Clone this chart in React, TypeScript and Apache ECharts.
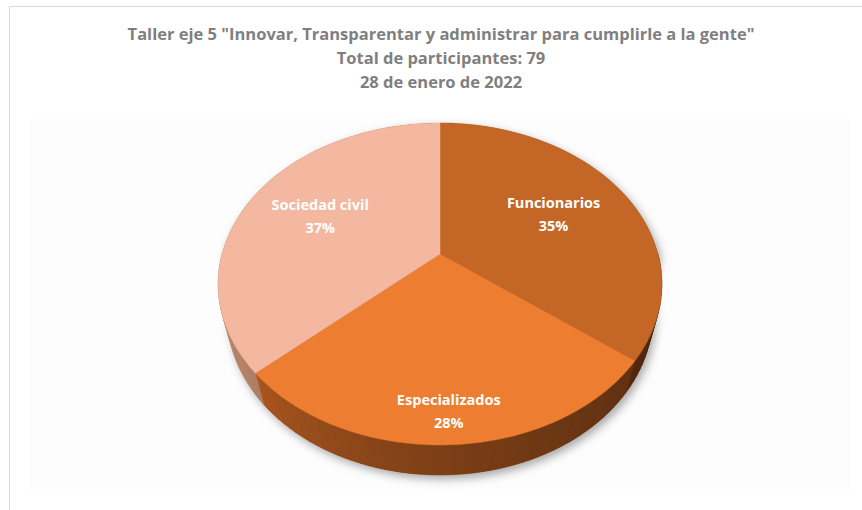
import React, { useEffect, useRef } from 'react';
import * as echarts from 'echarts';

const titleLines = [
  'Taller eje 5 "Innovar, Transparentar y administrar para cumplirle a la gente"',
  'Total de participantes: 79',
  '28 de enero de 2022',
];
const categories = ['Funcionarios', 'Especializados', 'Sociedad civil'];
const participants = [28, 22, 29];

const topColors = ['#C46626', '#ED7D31', '#F4B8A0'];
const labelRadius = [0.61, 0.85, 0.63];

// 3D projection of a tilted disc (perspective)
const CX = 440;
const CY = 254;
const FOCAL = 820;
const DIST = 3.763;
const SIN_A = 0.713;
const COS_A = 0.701;
const THICK = 0.22;

function proj(theta: number, r: number, y: number): number[] {
  const u = r * Math.sin(theta);
  const v = r * Math.cos(theta);
  const up = v * SIN_A + y * COS_A;
  const depth = DIST + v * COS_A - y * SIN_A;
  return [CX + (FOCAL * u) / depth, CY - (FOCAL * up) / depth];
}

function hexToRgb(h: string) {
  const n = parseInt(h.slice(1), 16);
  return [(n >> 16) & 255, (n >> 8) & 255, n & 255];
}

function shadeColor(hex: string, theta: number) {
  const t = Math.max(0, Math.min(1, (theta - Math.PI / 2) / Math.PI));
  const s = Math.min(0.76, 0.39 + 0.55 * t * t);
  const [r, g, b] = hexToRgb(hex);
  const rr = Math.round(r * s);
  const gg = Math.round(g * s * 0.96);
  const bb = Math.round(b * s * 0.88);
  return `rgb(${rr},${gg},${bb})`;
}

export default function App() {
  const ref = useRef<HTMLDivElement>(null);
  useEffect(() => {
    if (!ref.current) return;
    const chart = echarts.init(ref.current, undefined, { renderer: 'svg' });
    const total = participants.reduce((a, b) => a + b, 0);
    const starts: number[] = [];
    let acc = 0;
    participants.forEach((v) => {
      starts.push(acc);
      acc += v;
    });

    const renderItem = (params: any, api: any) => {
      const i = params.dataIndex;
      const value = api.value(0) as number;
      const a0 = (starts[i] / total) * Math.PI * 2;
      const a1 = a0 + (value / total) * Math.PI * 2;
      const children: any[] = [];
      const DEG = Math.PI / 180;

      if (i === 0) {
        const sil: number[][] = [];
        for (let t = 90; t <= 270; t += 2) sil.push(proj(t * DEG, 1, -THICK));
        for (let t = 270; t <= 450; t += 2) sil.push(proj(t * DEG, 1, 0));
        children.push({
          type: 'polygon',
          shape: { points: sil },
          style: {
            fill: '#6a3a16',
            shadowBlur: 10,
            shadowColor: 'rgba(0,0,0,0.35)',
            shadowOffsetX: 3,
            shadowOffsetY: 4,
          },
          z2: 0,
        });
      }

      // outer wall (front half only)
      const lo = Math.max(a0, Math.PI / 2);
      const hi = Math.min(a1, (3 * Math.PI) / 2);
      if (lo < hi) {
        const n = Math.ceil((hi - lo) / (2 * DEG));
        for (let k = 0; k < n; k++) {
          const t0 = lo + ((hi - lo) * k) / n;
          const t1 = lo + ((hi - lo) * (k + 1)) / n;
          const col = shadeColor(topColors[i], (t0 + t1) / 2);
          children.push({
            type: 'polygon',
            shape: {
              points: [proj(t0, 1, 0), proj(t1, 1, 0), proj(t1, 1, -THICK), proj(t0, 1, -THICK)],
            },
            style: { fill: col, stroke: col, lineWidth: 0.6 },
            z2: 5,
          });
        }
      }

      // top face
      const pts: number[][] = [proj(0, 0, 0)];
      const m = Math.max(2, Math.ceil((a1 - a0) / DEG));
      for (let k = 0; k <= m; k++) pts.push(proj(a0 + ((a1 - a0) * k) / m, 1, 0));
      children.push({
        type: 'polygon',
        shape: { points: pts },
        style: { fill: topColors[i], stroke: topColors[i], lineWidth: 0.5 },
        z2: 10,
      });

      // label
      const mid = (a0 + a1) / 2;
      const lp = proj(mid, labelRadius[i], 0);
      const pct = Math.round((value / total) * 100);
      children.push({
        type: 'text',
        x: lp[0],
        y: lp[1],
        style: {
          text: `${categories[i]}\n${pct}%`,
          fill: '#FFFFFF',
          font: 'bold 14.5px "Open Sans", sans-serif',
          align: 'center',
          verticalAlign: 'middle',
          lineHeight: 23,
        },
        z2: 20,
      });

      return { type: 'group', children };
    };

    chart.setOption({
      animation: false,
      backgroundColor: '#FFFFFF',
      graphic: [
        {
          type: 'rect',
          shape: { x: 9.5, y: 6.5, width: 900, height: 600 },
          style: { fill: '#FFFFFF', stroke: '#D9D9D9', lineWidth: 1 },
          z: 0,
          silent: true,
        },
        {
          type: 'rect',
          shape: { x: 30, y: 119, width: 820, height: 375 },
          style: { fill: '#FDFDFD' },
          z: 0,
          silent: true,
        },
        {
          type: 'text',
          x: 441,
          y: 21,
          style: {
            text: titleLines.join('\n'),
            fill: '#7F7F7F',
            font: 'bold 16.5px "Open Sans", sans-serif',
            align: 'center',
            verticalAlign: 'top',
            lineHeight: 24,
          },
          z: 1,
        },
      ],
      series: [
        {
          type: 'custom',
          coordinateSystem: 'none',
          renderItem,
          data: participants.map((v, i) => ({ value: [v], name: categories[i] })),
          z: 5,
        },
      ],
    });
    return () => chart.dispose();
  }, []);

  return (
    <div
      ref={ref}
      style={{ position: 'fixed', left: 0, top: 0, width: 862, height: 510, background: '#fff' }}
    />
  );
}
